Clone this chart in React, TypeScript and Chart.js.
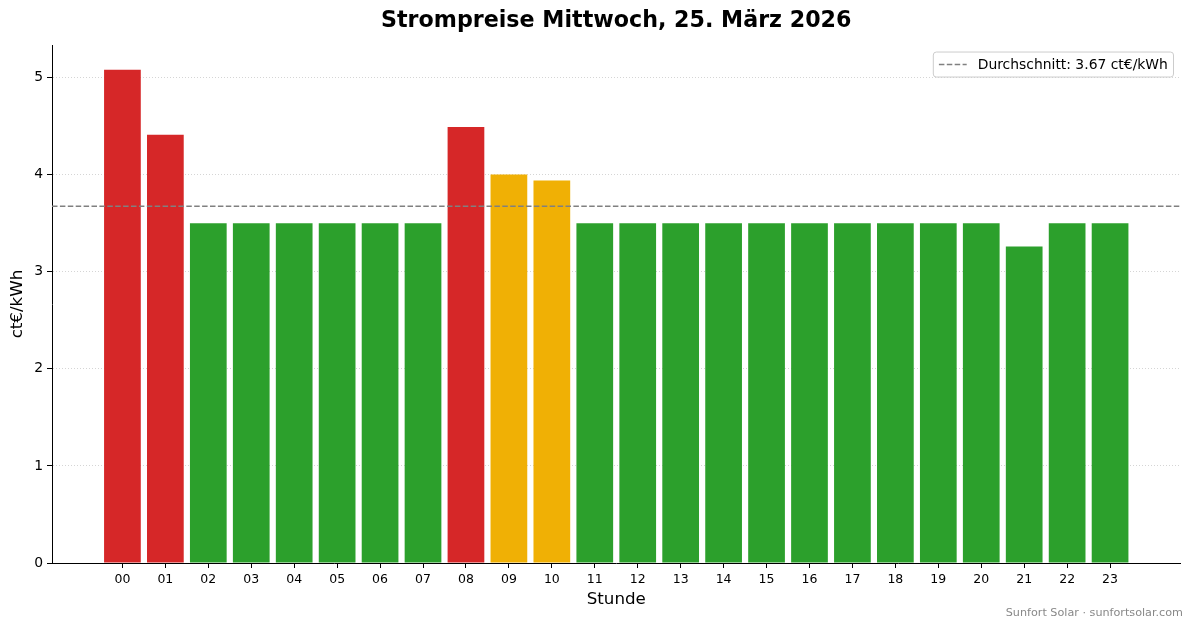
import { useEffect, useRef } from "react";
import { Chart, registerables } from "chart.js";

Chart.register(...registerables);

const hours = [
  "00", "01", "02", "03", "04", "05", "06", "07", "08", "09", "10", "11",
  "12", "13", "14", "15", "16", "17", "18", "19", "20", "21", "22", "23",
];

// ct€/kWh per hour
const prices = [
  5.08, 4.41, 3.5, 3.5, 3.5, 3.5, 3.5, 3.5, 4.49, 4.0, 3.94, 3.5,
  3.5, 3.5, 3.5, 3.5, 3.5, 3.5, 3.5, 3.5, 3.5, 3.26, 3.5, 3.5,
];

const RED = "#d62728";
const ORANGE = "#f0b005";
const GREEN = "#2ca02c";

const barColors = [
  RED, RED, GREEN, GREEN, GREEN, GREEN, GREEN, GREEN, RED, ORANGE, ORANGE, GREEN,
  GREEN, GREEN, GREEN, GREEN, GREEN, GREEN, GREEN, GREEN, GREEN, GREEN, GREEN, GREEN,
];

const yTicks = [0, 1, 2, 3, 4, 5];

const FONT = "DejaVu Sans";

// matplotlib-like limits: bars plus 5% margin on each side
const X_MIN = -1.64;
const X_MAX = 24.64;
const Y_MAX = Math.max(...prices) * 1.05;

const average = prices.reduce((a, b) => a + b, 0) / prices.length;

const avgLegend = {
  id: "avgLegend",
  afterDraw(chart: Chart) {
    const { ctx, chartArea } = chart;
    const ds = chart.data.datasets[0] as any;
    const label: string = ds.label;
    const fs = 13.9;
    ctx.save();
    ctx.font = `${fs}px "${FONT}"`;
    const tw = ctx.measureText(label).width;
    const pad = 5.6;
    const handle = 27.8;
    const gap = 11;
    const w = pad + handle + gap + tw + pad;
    const h = 25;
    const x = chartArea.right - 7 - w;
    const y = chartArea.top + 7;
    ctx.beginPath();
    ctx.roundRect(x, y, w, h, 3);
    ctx.fillStyle = "rgba(255,255,255,0.8)";
    ctx.fill();
    ctx.strokeStyle = "#cccccc";
    ctx.lineWidth = 1;
    ctx.stroke();

    const cy = y + h / 2;
    ctx.beginPath();
    ctx.setLineDash(ds.borderDash);
    ctx.strokeStyle = ds.borderColor;
    ctx.lineWidth = ds.borderWidth;
    ctx.moveTo(x + pad, cy);
    ctx.lineTo(x + pad + handle, cy);
    ctx.stroke();
    ctx.setLineDash([]);

    ctx.fillStyle = "#000";
    ctx.textBaseline = "middle";
    ctx.textAlign = "left";
    ctx.fillText(label, x + pad + handle + gap, cy + 0.5);
    ctx.restore();
  },
};

export default function App() {
  const canvasRef = useRef<HTMLCanvasElement>(null);
  const chartInstance = useRef<Chart | null>(null);

  useEffect(() => {
    if (!canvasRef.current) return;
    if (chartInstance.current) chartInstance.current.destroy();

    Chart.defaults.font.family = FONT;
    Chart.defaults.color = "#000";

    chartInstance.current = new Chart(canvasRef.current, {
      type: "bar",
      data: {
        datasets: [
          {
            type: "line",
            label: `Durchschnitt: ${average.toFixed(2)} ct€/kWh`,
            data: [
              { x: X_MIN, y: average },
              { x: X_MAX, y: average },
            ],
            borderColor: "#808080",
            borderWidth: 1.5,
            borderDash: [5.5, 2.4],
            pointRadius: 0,
            order: 0,
          } as any,
          {
            type: "bar",
            label: "Preis",
            data: prices.map((p, i) => ({ x: i, y: p })),
            backgroundColor: barColors,
            borderWidth: 0,
            barPercentage: 0.855,
            categoryPercentage: 1,
            order: 1,
          },
        ],
      },
      options: {
        responsive: false,
        animation: false,
        layout: { padding: { top: 0, right: 12.5, left: 0, bottom: 0 } },
        plugins: {
          legend: { display: false },
          tooltip: { enabled: false },
          title: {
            display: true,
            text: "Strompreise Mittwoch, 25. März 2026",
            fullSize: false,
            color: "#000",
            font: { size: 22.2, weight: "bold", lineHeight: 1.2 },
            padding: { top: 8, bottom: 10.4 },
          },
        },
        scales: {
          x: {
            type: "linear",
            min: X_MIN,
            max: X_MAX,
            offset: false,
            afterBuildTicks: (s: any) => {
              s.ticks = hours.map((_, i) => ({ value: i }));
            },
            afterFit: (s: any) => {
              s.height = 65;
            },
            ticks: {
              callback: (v: any) => hours[v] ?? "",
              font: { size: 12.5 },
              color: "#000",
              padding: 4,
              autoSkip: false,
              maxRotation: 0,
            },
            grid: {
              offset: false,
              drawOnChartArea: false,
              drawTicks: true,
              tickLength: 5,
              tickColor: "#000",
              tickWidth: 1,
              lineWidth: 1,
            },
            border: { display: true, color: "#000", width: 1 },
            title: {
              display: true,
              text: "Stunde",
              font: { size: 16.7 },
              color: "#000",
              padding: { top: 0, bottom: 18 },
            },
          },
          y: {
            min: 0,
            max: Y_MAX,
            afterBuildTicks: (s: any) => {
              s.ticks = yTicks.map((v) => ({ value: v }));
            },
            afterFit: (s: any) => {
              s.width = 52;
            },
            ticks: {
              font: { size: 13.9 },
              color: "#000",
              padding: 4,
            },
            grid: {
              color: "#d5d5d5",
              lineWidth: 1,
              tickLength: 5,
              tickColor: "#000",
              tickWidth: 1,
              tickBorderDash: [],
            },
            border: { display: true, color: "#000", width: 1, dash: [1, 2] },
            title: {
              display: true,
              text: "ct€/kWh",
              font: { size: 16.7 },
              color: "#000",
              padding: { top: 8, bottom: 0 },
            },
          },
        },
      },
      plugins: [avgLegend],
    });

    return () => {
      if (chartInstance.current) {
        chartInstance.current.destroy();
        chartInstance.current = null;
      }
    };
  }, []);

  return (
    <div
      style={{
        position: "fixed",
        left: 0,
        top: 0,
        width: 1193,
        height: 628,
        background: "#fff",
        fontFamily: FONT,
      }}
    >
      <canvas ref={canvasRef} width={1193} height={628} style={{ width: 1193, height: 628 }} />
      <div
        style={{
          position: "absolute",
          right: 10,
          top: 606,
          fontSize: 11.2,
          lineHeight: "14px",
          color: "#888",
        }}
      >
        Sunfort Solar · sunfortsolar.com
      </div>
    </div>
  );
}
